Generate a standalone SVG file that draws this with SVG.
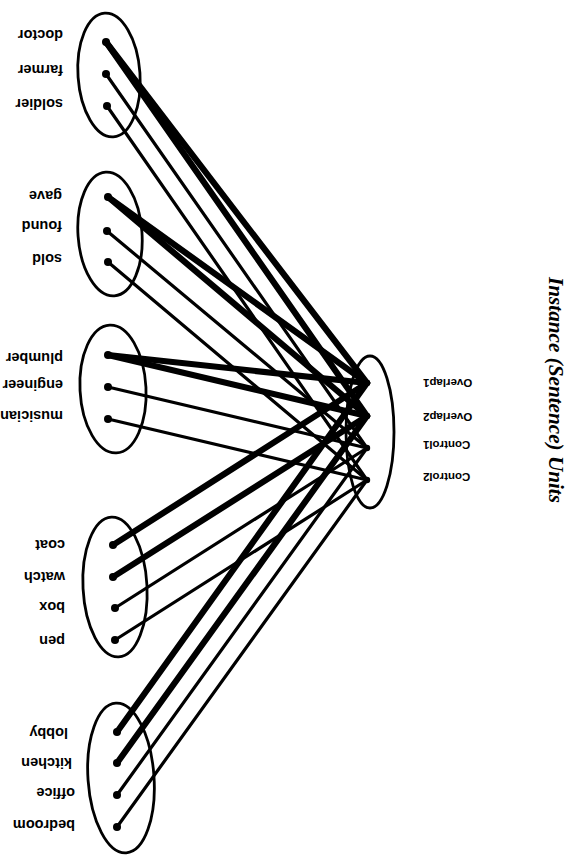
<svg xmlns="http://www.w3.org/2000/svg" width="581" height="856" viewBox="0 0 581 856">
<style>
.bg{fill:#fff}
.grp{fill:none;stroke:#000;stroke-width:2.8}
.thick{stroke:#000;stroke-width:6.2;stroke-linecap:round;fill:none}
.thin{stroke:#000;stroke-width:3.2;stroke-linecap:round;fill:none}
.dot{fill:#000}
.lbl{font-family:"Liberation Sans",Arial,sans-serif;font-size:14.5px;font-weight:bold;fill:#000}
.hl{font-family:"Liberation Sans",Arial,sans-serif;font-size:11.5px;font-weight:bold;fill:#000}
.title{font-family:"Liberation Serif","Times New Roman",serif;font-size:22px;font-weight:bold;font-style:italic;fill:#000}
</style>
<rect class="bg" x="0" y="0" width="581" height="856"/>
<g id="connectors">
<line class="thick" x1="106" y1="42" x2="367" y2="383"/>
<line class="thick" x1="106" y1="42" x2="367" y2="416"/>
<line class="thin" x1="106" y1="74" x2="367" y2="448"/>
<line class="thin" x1="107" y1="106" x2="367" y2="480"/>
<line class="thick" x1="108" y1="197" x2="367" y2="383"/>
<line class="thick" x1="108" y1="197" x2="367" y2="416"/>
<line class="thin" x1="107" y1="231" x2="367" y2="448"/>
<line class="thin" x1="108" y1="262" x2="367" y2="480"/>
<line class="thick" x1="108" y1="355" x2="367" y2="383"/>
<line class="thick" x1="108" y1="355" x2="367" y2="416"/>
<line class="thin" x1="108" y1="387" x2="367" y2="448"/>
<line class="thin" x1="108" y1="419" x2="367" y2="480"/>
<line class="thick" x1="113" y1="545" x2="367" y2="383"/>
<line class="thick" x1="113" y1="577" x2="367" y2="416"/>
<line class="thin" x1="115" y1="608" x2="367" y2="448"/>
<line class="thin" x1="115" y1="640" x2="367" y2="480"/>
<line class="thick" x1="117" y1="732" x2="367" y2="383"/>
<line class="thick" x1="117" y1="763" x2="367" y2="416"/>
<line class="thin" x1="117" y1="795" x2="367" y2="448"/>
<line class="thin" x1="117" y1="827" x2="367" y2="480"/>
</g>
<g id="agents">
<ellipse class="grp" cx="109" cy="75" rx="31" ry="62" transform="rotate(-4 109 75)"/>
<circle class="dot" cx="106" cy="42" r="4"/><circle class="dot" cx="106" cy="74" r="4"/><circle class="dot" cx="107" cy="106" r="4"/>
<text class="lbl" transform="rotate(180 63 30)" x="63" y="30">doctor</text>
<text class="lbl" transform="rotate(180 63 65)" x="63" y="65">farmer</text>
<text class="lbl" transform="rotate(180 63 99)" x="63" y="99">soldier</text>
</g>
<g id="verbs">
<ellipse class="grp" cx="110" cy="234" rx="32" ry="62" transform="rotate(-4 110 234)"/>
<circle class="dot" cx="108" cy="197" r="4"/><circle class="dot" cx="107" cy="231" r="4"/><circle class="dot" cx="108" cy="262" r="4"/>
<text class="lbl" transform="rotate(180 62 191)" x="62" y="191">gave</text>
<text class="lbl" transform="rotate(180 62 221)" x="62" y="221">found</text>
<text class="lbl" transform="rotate(180 62 254)" x="62" y="254">sold</text>
</g>
<g id="recipients">
<ellipse class="grp" cx="113" cy="389" rx="33" ry="64" transform="rotate(-3 113 389)"/>
<circle class="dot" cx="108" cy="355" r="4"/><circle class="dot" cx="108" cy="387" r="4"/><circle class="dot" cx="108" cy="419" r="4"/>
<text class="lbl" transform="rotate(180 63 353)" x="63" y="353">plumber</text>
<text class="lbl" transform="rotate(180 63 380)" x="63" y="380">engineer</text>
<text class="lbl" transform="rotate(180 63 411)" x="63" y="411">musician</text>
</g>
<g id="objects">
<ellipse class="grp" cx="115" cy="587" rx="32" ry="70" transform="rotate(-3 115 587)"/>
<circle class="dot" cx="113" cy="545" r="4"/><circle class="dot" cx="113" cy="577" r="4"/><circle class="dot" cx="115" cy="608" r="4"/><circle class="dot" cx="115" cy="640" r="4"/>
<text class="lbl" transform="rotate(180 65 540)" x="65" y="540">coat</text>
<text class="lbl" transform="rotate(180 65 572)" x="65" y="572">watch</text>
<text class="lbl" transform="rotate(180 65 602)" x="65" y="602">box</text>
<text class="lbl" transform="rotate(180 65 636)" x="65" y="636">pen</text>
</g>
<g id="locations">
<ellipse class="grp" cx="121" cy="778" rx="33" ry="75" transform="rotate(-4 121 778)"/>
<circle class="dot" cx="117" cy="732" r="4"/><circle class="dot" cx="117" cy="763" r="4"/><circle class="dot" cx="117" cy="795" r="4"/><circle class="dot" cx="117" cy="827" r="4"/>
<text class="lbl" transform="rotate(180 68 728)" x="68" y="728">lobby</text>
<text class="lbl" transform="rotate(180 72 758)" x="72" y="758">kitchen</text>
<text class="lbl" transform="rotate(180 75 788)" x="75" y="788">office</text>
<text class="lbl" transform="rotate(180 75 820)" x="75" y="820">bedroom</text>
</g>
<g id="instances">
<ellipse class="grp" cx="370" cy="432" rx="24" ry="76"/>
<circle class="dot" cx="367" cy="383" r="3.2"/><circle class="dot" cx="367" cy="416" r="3.2"/><circle class="dot" cx="367" cy="448" r="3.2"/><circle class="dot" cx="367" cy="480" r="3.2"/>
<text class="hl" text-anchor="end" transform="rotate(180 423 379)" x="423" y="379">Overlap1</text>
<text class="hl" text-anchor="end" transform="rotate(180 423 413)" x="423" y="413">Overlap2</text>
<text class="hl" text-anchor="end" transform="rotate(180 423 441)" x="423" y="441">Control1</text>
<text class="hl" text-anchor="end" transform="rotate(180 423 473)" x="423" y="473">Control2</text>
</g>
<g id="title">
<text class="title" text-anchor="middle" transform="translate(549 390) rotate(90)" x="0" y="0" textLength="226" lengthAdjust="spacingAndGlyphs">Instance  (Sentence)  Units</text>
</g>
</svg>
